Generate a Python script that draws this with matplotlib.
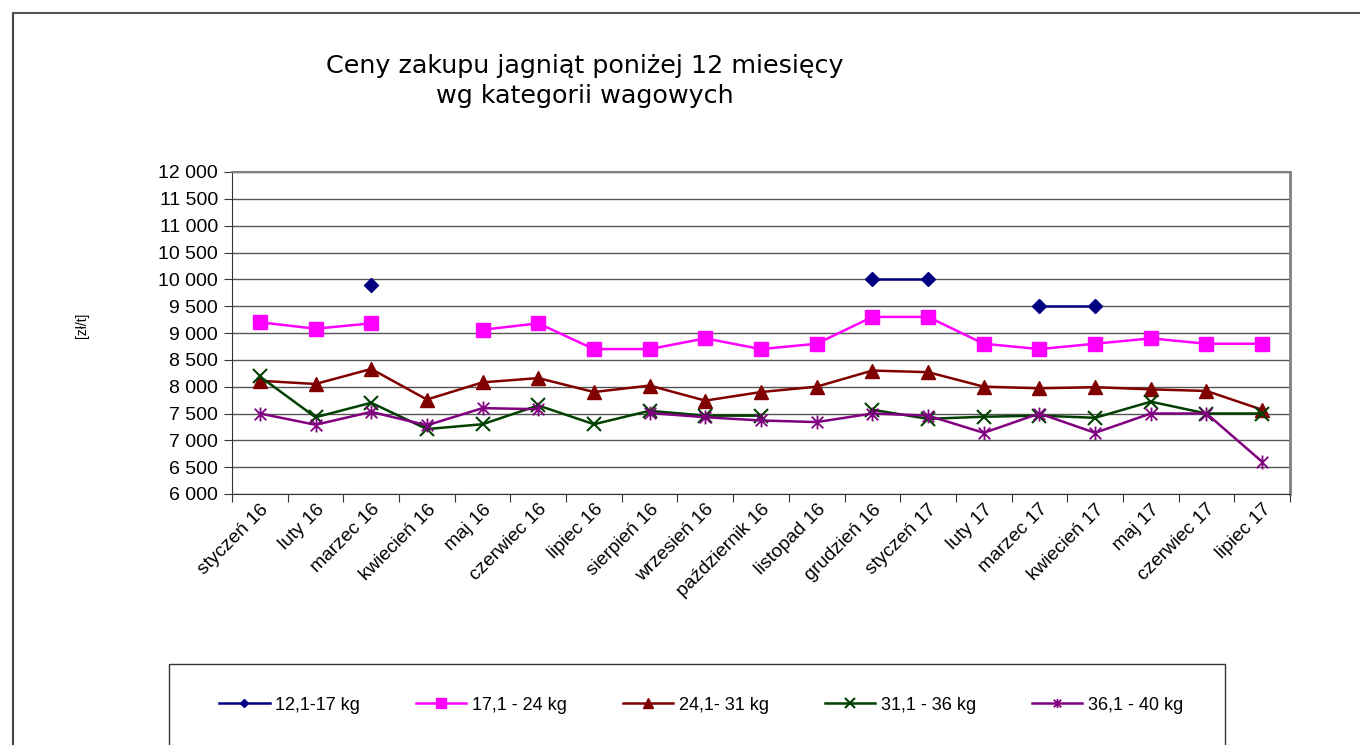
import matplotlib
matplotlib.use('Agg')
import matplotlib.pyplot as plt
import numpy as np
from matplotlib.path import Path
from matplotlib.patches import Rectangle
from matplotlib.lines import Line2D
from matplotlib.ticker import FuncFormatter, FixedLocator, NullFormatter

nan = np.nan

# months (categories)
months = ['styczeń 16', 'luty 16', 'marzec 16', 'kwiecień 16', 'maj 16',
          'czerwiec 16', 'lipiec 16', 'sierpień 16', 'wrzesień 16',
          'październik 16', 'listopad 16', 'grudzień 16', 'styczeń 17',
          'luty 17', 'marzec 17', 'kwiecień 17', 'maj 17', 'czerwiec 17',
          'lipiec 17']

# prices [zł/t] per weight category
kg_12_17 = [nan, nan, 9890, nan, nan, nan, nan, nan, nan, nan, nan,
            10000, 10000, nan, 9500, 9500, nan, nan, nan]
kg_17_24 = [9200, 9080, 9180, nan, 9060, 9180, 8700, 8700, 8900, 8700,
            8800, 9300, 9300, 8800, 8700, 8800, 8900, 8800, 8800]
kg_24_31 = [8110, 8050, 8330, 7760, 8080, 8160, 7900, 8020, 7740, 7900,
            8000, 8300, 8270, 8000, 7970, 7990, 7950, 7920, 7570]
kg_31_36 = [8190, 7430, 7700, 7210, 7300, 7650, 7300, 7550, 7460, 7460,
            nan, 7570, 7400, 7440, 7460, 7420, 7720, 7500, 7500]
kg_36_40 = [7500, 7290, 7530, 7280, 7600, 7580, nan, 7510, 7430, 7370,
            7340, 7500, 7460, 7140, 7500, 7140, 7500, 7500, 6600]

series_names = ['12,1-17 kg', '17,1 - 24 kg', '24,1- 31 kg', '31,1 - 36 kg', '36,1 - 40 kg']

# Excel-like star marker: an X plus a vertical bar
star = Path([(-1, -1), (1, 1), (-1, 1), (1, -1), (0, -1.2), (0, 1.2)],
            [Path.MOVETO, Path.LINETO, Path.MOVETO, Path.LINETO, Path.MOVETO, Path.LINETO])

plt.rcParams['font.family'] = ['Liberation Sans', 'DejaVu Sans']

fig = plt.figure(figsize=(13.6, 7.45), dpi=100)
ax = fig.add_axes([232 / 1360, 1 - 494 / 745, 1058 / 1360, 322 / 745])

x = np.arange(len(months))
styles = [
    dict(color='#000080', marker='D', markersize=7),
    dict(color='#FF00FF', marker='s', markersize=10),
    dict(color='#800000', marker='^', markersize=10),
    dict(color='#004000', marker='x', markersize=10, markeredgewidth=1.5),
    dict(color='#800080', marker=star, markersize=10, markeredgewidth=1.3),
]
for vals, name, st in zip([kg_12_17, kg_17_24, kg_24_31, kg_31_36, kg_36_40], series_names, styles):
    ax.plot(x, vals, lw=1.8, label=name, zorder=3, **st)

ax.set_xlim(-0.5, len(months) - 0.5)
ax.set_ylim(6000, 12000)
ax.set_yticks(np.arange(6000, 12001, 500))
ax.yaxis.set_major_formatter(FuncFormatter(lambda v, p: f'{int(v):,}'.replace(',', ' ')))
ax.tick_params(axis='y', labelsize=14, length=6, color='#333333', pad=4)

# category labels centered, tick marks between categories
ax.xaxis.set_major_locator(FixedLocator(np.arange(-0.5, len(months), 1)))
ax.xaxis.set_major_formatter(NullFormatter())
ax.set_xticks(x, months, minor=True)
ax.tick_params(axis='x', which='major', length=6, color='#333333')
ax.tick_params(axis='x', which='minor', length=0, labelsize=13.8, pad=5)
for lbl in ax.get_xticklabels(minor=True):
    lbl.set_rotation(45)
    lbl.set_ha('right')
    lbl.set_va('top')
    lbl.set_rotation_mode('anchor')

ax.grid(axis='y', color='#555555', lw=1)
ax.set_axisbelow(True)
ax.spines['left'].set_color('#333333')
ax.spines['bottom'].set_color('#333333')
ax.spines['top'].set_color('#808080')
ax.spines['right'].set_color('#808080')
ax.spines['right'].set_linewidth(2)
ax.spines['top'].set_linewidth(1.5)

fig.text(82 / 1360, 1 - 325 / 745, '[zł/t]', rotation=90, ha='center', va='center', fontsize=10)

fig.text(585 / 1360, 1 - 81 / 745, 'Ceny zakupu jagniąt poniżej 12 miesięcy\nwg kategorii wagowych',
         ha='center', va='center', fontsize=18.3, family='DejaVu Sans', linespacing=1.3)

# outer chart frame
fig.add_artist(Line2D([13 / 1360, 13 / 1360], [0, 1 - 13 / 745], transform=fig.transFigure,
                      color='#444444', lw=1.5))
fig.add_artist(Line2D([13 / 1360, 1], [1 - 13 / 745, 1 - 13 / 745], transform=fig.transFigure,
                      color='#555555', lw=1.5))

# legend box
fig.add_artist(Rectangle((169 / 1360, -0.01), (1225 - 169) / 1360, 0.01 + (745 - 664) / 745,
                         transform=fig.transFigure, fill=False, edgecolor='#333333', lw=1))
handles, labels = ax.get_legend_handles_labels()
leg = fig.legend(handles, labels, loc='center', bbox_to_anchor=(701 / 1360, 1 - 705 / 745),
                 ncol=5, frameon=False, fontsize=13, handlelength=2.8, columnspacing=3.1,
                 handletextpad=0.3, markerscale=0.65)

plt.savefig('out.png', dpi=100)
plt.close()
